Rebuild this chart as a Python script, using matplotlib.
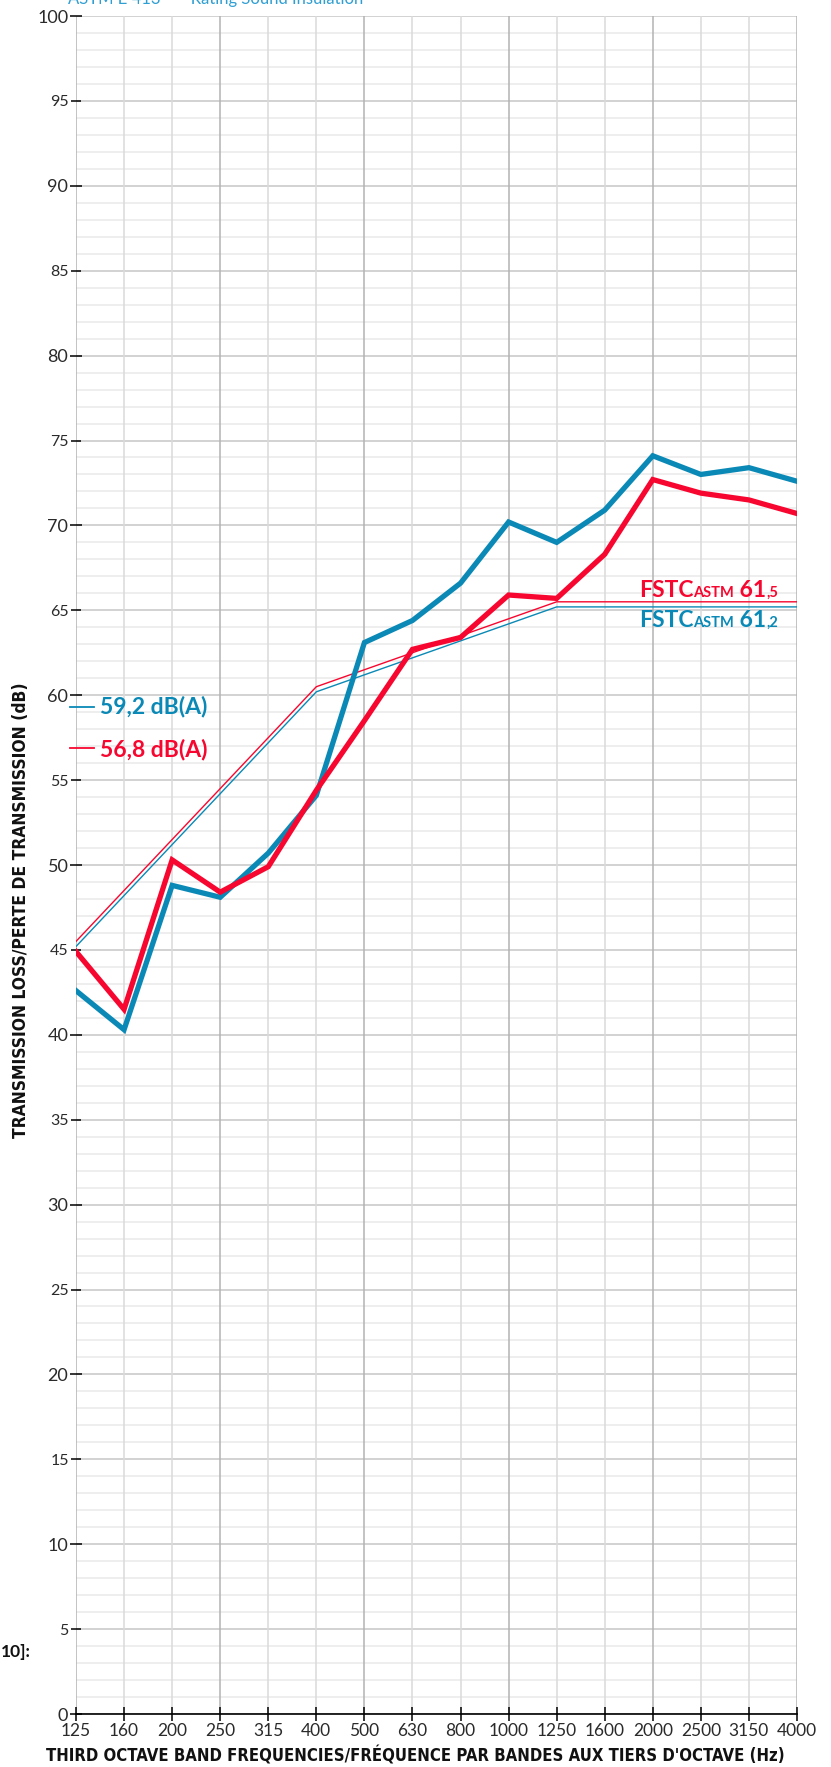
import matplotlib
matplotlib.use('Agg')
from matplotlib import pyplot as plt
from matplotlib.lines import Line2D
from matplotlib.ticker import MultipleLocator

# third octave bands and measured transmission loss (dB)
bands = ['125', '160', '200', '250', '315', '400', '500', '630', '800',
         '1000', '1250', '1600', '2000', '2500', '3150', '4000']
blue_tl = [42.6, 40.3, 48.8, 48.1, 50.7, 54.1, 63.1, 64.4, 66.6,
           70.2, 69.0, 70.9, 74.1, 73.0, 73.4, 72.6]
red_tl = [44.9, 41.5, 50.3, 48.4, 49.9, 54.4, 58.5, 62.7, 63.4,
          65.9, 65.7, 68.3, 72.7, 71.9, 71.5, 70.7]

# fitted ASTM E413 reference contours
blue_ref = [45.2, 48.2, 51.2, 54.2, 57.2, 60.2, 61.2, 62.2, 63.2,
            64.2, 65.2, 65.2, 65.2, 65.2, 65.2, 65.2]
red_ref = [45.5, 48.5, 51.5, 54.5, 57.5, 60.5, 61.5, 62.5, 63.5,
           64.5, 65.5, 65.5, 65.5, 65.5, 65.5, 65.5]

blue_rating = ['FSTC', 'ASTM', ' 61', ',2']
red_rating = ['FSTC', 'ASTM', ' 61', ',5']
blue_dba = '59,2 dB(A)'
red_dba = '56,8 dB(A)'

BLUE = '#0a89b6'
RED = '#f7072f'
W, H = 831, 1767

fig = plt.figure(figsize=(W / 100, H / 100), dpi=100)
ax = fig.add_axes([76 / W, 1 - 1714 / H, (797 - 76) / W, (1714 - 16) / H])

x = list(range(len(bands)))
ax.set_xlim(0, len(bands) - 1)
ax.set_ylim(0, 100)

# grid: 1 dB minor, 5 dB major, octave bands darker
for v in range(0, 101):
    ax.axhline(v, color='#c6c6c6' if v % 5 == 0 else '#e9e9e9', lw=1.1, zorder=0)
for i, b in enumerate(bands):
    octave = b in ('125', '250', '500', '1000', '2000', '4000')
    ax.axvline(i, color='#b3b3b3' if octave else '#dadada', lw=1.1, zorder=0.5)

# reference contours (thin) and measured curves (thick)
ax.plot(x, blue_ref, color=BLUE, lw=1.0, zorder=2)
ax.plot(x, red_ref, color=RED, lw=1.0, zorder=2)
ax.plot(x, blue_tl, color=BLUE, lw=3.8, zorder=3, solid_joinstyle='miter')
ax.plot(x, red_tl, color=RED, lw=3.8, zorder=4, solid_joinstyle='miter')

for s in ['top', 'right', 'left']:
    ax.spines[s].set_visible(False)
ax.spines['bottom'].set_linewidth(1.2)
ax.spines['bottom'].set_zorder(5)

ax.set_xticks(x)
ax.set_xticklabels(bands)
ax.tick_params(axis='x', direction='inout', length=9.5, width=1.1, pad=2,
               labelsize=12.5, labelcolor='#2a2a2a')
for lab in ax.get_xticklabels():
    lab.set_family('Lato')

ax.yaxis.set_major_locator(MultipleLocator(10))
ax.yaxis.set_minor_locator(MultipleLocator(5))
ax.yaxis.set_minor_formatter(matplotlib.ticker.FormatStrFormatter('%d'))
ax.tick_params(axis='y', which='major', direction='inout', length=9, width=1.1,
               pad=1, labelsize=13, labelcolor='#2a2a2a')
ax.tick_params(axis='y', which='minor', direction='inout', length=6.5, width=1.1,
               pad=2, labelsize=11.5, labelcolor='#2a2a2a')
for lab in ax.get_yticklabels() + ax.get_yticklabels(minor=True):
    lab.set_family('Lato')

# axis titles
fig.text(0.5, 2 / H, "THIRD OCTAVE BAND FREQUENCIES/FRÉQUENCE PAR BANDES AUX TIERS D'OCTAVE (Hz)",
         ha='center', va='bottom', fontsize=12, fontweight='bold',
         family='DejaVu Sans', fontstretch='condensed', color='#111111')
fig.text(21 / W, 1 - 910 / H, 'TRANSMISSION LOSS/PERTE DE TRANSMISSION (dB)',
         ha='center', va='center', rotation=90, fontsize=12.5, fontweight='bold',
         family='DejaVu Sans', fontstretch='condensed', color='#111111')

# clipped leftovers at the page edges
fig.text(68 / W, 1 - 4 / H, 'ASTM E 413  —  Rating Sound Insulation',
         ha='left', va='baseline', fontsize=12, family='Lato', color='#2f9fd3')
fig.text(31 / W, 1 - 1657 / H, '10]:', ha='right', va='baseline',
         fontsize=12.5, fontweight='bold', family='Lato', color='#111111')

# dB(A) labels with short line markers
for y_line, y_base, txt, col in [(706.7, 713, blue_dba, BLUE), (748, 756, red_dba, RED)]:
    fig.add_artist(Line2D([70 / W, 94 / W], [1 - y_line / H] * 2, color=col, lw=1.3,
                          transform=fig.transFigure))
    fig.text(100 / W, 1 - y_base / H, txt, ha='left', va='baseline', fontsize=16.5,
             fontweight='bold', family='Lato', color=col)

# FSTC ratings, built piece by piece for the small caps / small decimals
fig.canvas.draw()
renderer = fig.canvas.get_renderer()
sizes = [16.5, 10.5, 16.5, 10.5]
for pieces, y_base, col in [(red_rating, 597, RED), (blue_rating, 627, BLUE)]:
    texts = []
    xpos = 642
    for s, size in zip(pieces, sizes):
        t = fig.text(xpos / W, 1 - y_base / H, s, ha='left', va='baseline',
                     fontsize=size, fontweight='bold', family='Lato', color=col)
        xpos = t.get_window_extent(renderer).x1
        texts.append(t)
    # right align the whole label to the end of the axis
    shift = 778 - xpos
    for t in texts:
        px, py = t.get_position()
        t.set_position((px + shift / W, py))

fig.savefig('out.png', dpi=100, facecolor='white')
